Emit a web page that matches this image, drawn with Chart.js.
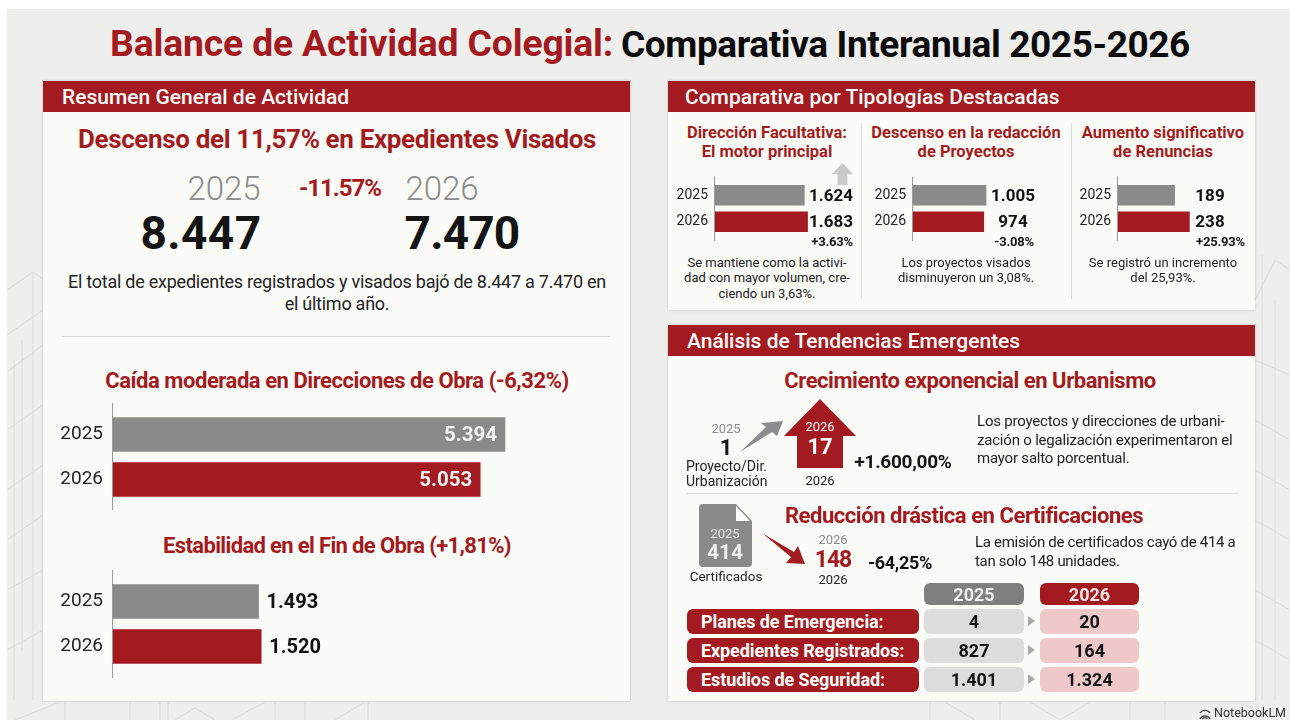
<!DOCTYPE html>
<html lang="es">
<head>
<meta charset="utf-8">
<title>Balance de Actividad Colegial</title>
<script src="https://cdn.jsdelivr.net/npm/chart.js@4"></script>
<style>
	:root { --rojo: #a31b20; --gris: #8a8a8a; --tinta: #141414; }
	html, body { margin: 0; padding: 0; background: #fff; }
	#lienzo { position: relative; width: 1290px; height: 720px; overflow: hidden; background: #fff; font-family: Roboto, sans-serif; color: var(--tinta); }
	#fondo { position: absolute; left: 7px; top: 9px; width: 1283px; height: 711px; background: #eeefed; }
	#trazos { position: absolute; left: 0; top: 0; }
	.panel { position: absolute; background: #fbfbf8; box-shadow: 0 0 3px rgba(0,0,0,.18); }
	.cabecera { position: absolute; background: var(--rojo); height: 31px; }
	.t { position: absolute; line-height: 1; white-space: nowrap; transform: translateY(-50%); }
	.c { transform: translate(-50%, -50%); text-align: center; }
	.b { font-weight: 700; }
	.m { font-weight: 500; }
	.r { color: var(--rojo); }
	.g { color: #8c8c8c; }
	.w { color: #fff; }
	.sub { font-size: 16.5px; font-weight: 700; color: var(--rojo); }
	.h { font-size: 21px; font-weight: 500; color: #fff; }
	.h2 { font-size: 22px; font-weight: 700; color: var(--rojo); letter-spacing: -.45px; }
	.d { font-size: 13px; color: #222; }
	.p { font-size: 15px; color: #222; letter-spacing: -.2px; }
	.linea { position: absolute; background: #d9d9d6; }
	.pildora { position: absolute; border-radius: 6px; display: flex; align-items: center; justify-content: center; font-size: 18px; font-weight: 700; }
	canvas { position: absolute; }
</style>
</head>
<body>
<div id="lienzo">
	<div id="fondo"></div>
	<svg id="trazos" width="1290" height="720" fill="none" stroke="#dcdcda" stroke-width="1">
		<path d="M7 290 L33 272 L43 279 M33 272 V700 M7 335 L43 310 M7 372 L43 345 M7 430 L43 405 M7 490 L43 465 M7 540 L43 515 M7 590 L43 570 M7 650 L43 630 M14 360 V700 M22 340 V650"/>
		<path d="M15 720 L60 702 M65 720 V702 M130 720 V702 M160 720 V702 M168 720 V702 M175 720 L195 708 L215 720 M232 720 L265 702 M275 720 V702 M305 720 V702 M335 720 L365 702 M368 720 V702"/>
		<path d="M930 720 V702 M945 702 L975 720 M1000 720 V702 M1030 702 L1060 720 L1090 702 M1130 720 V702 M1165 720 V702"/>
		<path d="M1255 360 L1290 375 M1255 420 L1290 440 M1255 470 L1290 490 M1255 520 L1290 540 M1255 590 L1290 610 M1255 640 L1290 660 M1262 255 V700 M1275 300 V700 M1255 300 L1275 260 L1290 270"/>
	</svg>

	<div class="t" style="left:110px;top:44px;font-size:37.3px;font-weight:700;color:var(--rojo);letter-spacing:-.15px">Balance de Actividad Colegial:</div>
	<div class="t" style="left:621px;top:44px;font-size:37px;font-weight:700;color:#0c0c0c;letter-spacing:-.4px">Comparativa Interanual 2025-2026</div>

	<!-- Panel izquierdo -->
	<div class="panel" style="left:43px;top:81px;width:587px;height:620px"></div>
	<div class="cabecera" style="left:43px;top:81px;width:587px"></div>
	<div class="t h" style="left:62px;top:97px">Resumen General de Actividad</div>
	<div class="t c sub" style="left:337px;top:139px;font-size:26px;letter-spacing:-.35px">Descenso del 11,57% en Expedientes Visados</div>
	<div class="t c g" style="left:224px;top:188px;font-size:33px;font-weight:300">2025</div>
	<div class="t c b r" style="left:340px;top:188px;font-size:24px;letter-spacing:-1px">-11.57%</div>
	<div class="t c g" style="left:442px;top:188px;font-size:33px;font-weight:300">2026</div>
	<div class="t c b" id="total2025" style="left:201px;top:233px;font-size:46px;letter-spacing:.4px"></div>
	<div class="t c b" id="total2026" style="left:462px;top:233px;font-size:46px;letter-spacing:-.8px"></div>
	<div class="t c" style="left:337px;top:282px;font-size:18px;color:#222;letter-spacing:-.25px">El total de expedientes registrados y visados bajó de 8.447 a 7.470 en</div>
	<div class="t c" style="left:337px;top:304px;font-size:18px;color:#222;letter-spacing:-.25px">el último año.</div>
	<div class="linea" style="left:62px;top:336px;width:548px;height:1px"></div>
	<div class="t c h2" style="left:337px;top:381px">Caída moderada en Direcciones de Obra (-6,32%)</div>
	<div class="t c h2" style="left:337px;top:546px;letter-spacing:-.65px">Estabilidad en el Fin de Obra (+1,81%)</div>
	<canvas id="graficoDirecciones" width="520" height="107" style="left:50px;top:403px"></canvas>
	<canvas id="graficoFinObra" width="400" height="108" style="left:50px;top:570px"></canvas>

	<!-- Panel de tipologías -->
	<div class="panel" style="left:668px;top:81px;width:587px;height:229px"></div>
	<div class="cabecera" style="left:668px;top:81px;width:587px"></div>
	<div class="t h" style="left:685px;top:97px">Comparativa por Tipologías Destacadas</div>
	<div class="linea" style="left:861px;top:123px;width:1px;height:176px"></div>
	<div class="linea" style="left:1071px;top:123px;width:1px;height:176px"></div>
	<div class="t c sub" style="left:767px;top:133px">Dirección Facultativa:</div>
	<div class="t c sub" style="left:767px;top:152px">El motor principal</div>
	<div class="t c sub" style="left:966px;top:133px">Descenso en la redacción</div>
	<div class="t c sub" style="left:966px;top:152px">de Proyectos</div>
	<div class="t c sub" style="left:1163px;top:133px">Aumento significativo</div>
	<div class="t c sub" style="left:1163px;top:152px">de Renuncias</div>
	<svg style="position:absolute;left:828px;top:160px" width="30" height="28"><path d="M14.5 3 L25 14 H19.5 V25 H9.5 V14 H4 Z" fill="#c9c9c6"/></svg>
	<canvas id="graficoDireccion" width="190" height="64" style="left:670px;top:177px"></canvas>
	<canvas id="graficoProyectos" width="190" height="64" style="left:868px;top:177px"></canvas>
	<canvas id="graficoRenuncias" width="180" height="64" style="left:1073px;top:177px"></canvas>
	<div class="t b" style="right:437px;top:241px;font-size:13px;letter-spacing:-.2px">+3.63%</div>
	<div class="t b" style="right:256px;top:241px;font-size:13px;letter-spacing:-.2px">-3.08%</div>
	<div class="t b" style="right:45px;top:241px;font-size:13px;letter-spacing:-.2px">+25.93%</div>
	<div class="t c d" style="left:767px;top:262px">Se mantiene como la activi-</div>
	<div class="t c d" style="left:767px;top:277px">dad con mayor volumen, cre-</div>
	<div class="t c d" style="left:767px;top:293px">ciendo un 3,63%.</div>
	<div class="t c d" style="left:966px;top:262px">Los proyectos visados</div>
	<div class="t c d" style="left:966px;top:277px">disminuyeron un 3,08%.</div>
	<div class="t c d" style="left:1163px;top:262px">Se registró un incremento</div>
	<div class="t c d" style="left:1163px;top:277px">del 25,93%.</div>

	<!-- Panel de tendencias -->
	<div class="panel" style="left:668px;top:325px;width:587px;height:376px"></div>
	<div class="cabecera" style="left:668px;top:325px;width:587px"></div>
	<div class="t h" style="left:687px;top:341px">Análisis de Tendencias Emergentes</div>
	<div class="t c h2" style="left:970px;top:381px">Crecimiento exponencial en Urbanismo</div>
	<svg style="position:absolute;left:0;top:0" width="1290" height="720">
		<path d="M820 399 L856 436 H843 V468 H797 V436 H784 Z" fill="#a31b20"/>
		<path d="M740 452 L766 427 L761 423 L783 421 L777 436 L772 432 Z" fill="#8c8c8c"/>
		<path d="M703 504 H736 L752 521 V563 Q752 567 748 567 H703 Q699 567 699 563 V508 Q699 504 703 504 Z" fill="#8a8a8a"/>
		<path d="M736 506 L750 521 H736 Z" fill="#fff"/>
		<path d="M762 533 L794 552 L798 546 L805 564 L786 563 L791 557 Z" fill="#a31b20"/>
		<path d="M1028 616 L1035 621 L1028 626 Z M1028 645 L1035 650 L1028 655 Z M1028 674 L1035 679 L1028 684 Z" fill="#a9a9a7"/>
	</svg>
	<div class="t c g" style="left:726px;top:428px;font-size:13px">2025</div>
	<div class="t c b" id="urbanismo2025" style="left:726px;top:448px;font-size:22px"></div>
	<div class="t" style="left:686px;top:466px;font-size:14px;color:#222">Proyecto/Dir.</div>
	<div class="t" style="left:686px;top:481px;font-size:14px;color:#222">Urbanización</div>
	<div class="t c w" style="left:820px;top:426px;font-size:13px">2026</div>
	<div class="t c b w" id="urbanismo2026" style="left:820px;top:447px;font-size:22px"></div>
	<div class="t c" style="left:820px;top:480px;font-size:13px;color:#222">2026</div>
	<div class="t c b" style="left:903px;top:461px;font-size:19px;letter-spacing:-.3px">+1.600,00%</div>
	<div class="t p" style="left:977px;top:421px">Los proyectos y direcciones de urbani-</div>
	<div class="t p" style="left:977px;top:440px">zación o legalización experimentaron el</div>
	<div class="t p" style="left:977px;top:458px">mayor salto porcentual.</div>
	<div class="linea" style="left:687px;top:493px;width:551px;height:1px"></div>
	<div class="t c h2" style="left:964px;top:516px">Reducción drástica en Certificaciones</div>
	<div class="t c" style="left:725px;top:533px;font-size:13px;color:#e4e4e4">2025</div>
	<div class="t c b" id="certificados2025" style="left:725px;top:552px;font-size:21px;color:#eee"></div>
	<div class="t c" style="left:726px;top:577px;font-size:13.5px;color:#222">Certificados</div>
	<div class="t c g" style="left:833px;top:539px;font-size:13px">2026</div>
	<div class="t c b r" id="certificados2026" style="left:833px;top:559px;font-size:23px;letter-spacing:-1px"></div>
	<div class="t c" style="left:833px;top:579px;font-size:13px;color:#222">2026</div>
	<div class="t c b" style="left:900px;top:563px;font-size:18px;letter-spacing:-.3px">-64,25%</div>
	<div class="t p" style="left:975px;top:542px;letter-spacing:-.3px">La emisión de certificados cayó de 414 a</div>
	<div class="t p" style="left:975px;top:561px;letter-spacing:-.3px">tan solo 148 unidades.</div>
	<div id="tabla"></div>

	<svg style="position:absolute;left:1198px;top:707px" width="14" height="13" fill="none" stroke="#333" stroke-width="1.3"><path d="M2 12 A5.5 5.5 0 0 1 12 12 M4.5 12 A3 3 0 0 1 9.5 12 M2 6 A6 6 0 0 1 12 6"/></svg>
	<div class="t" style="left:1214px;top:713px;font-size:12.5px;color:#333">NotebookLM</div>
</div>

<script>
// **DATOS**
const anios = ['2025', '2026'];
const totalExpedientes = [8447, 7470];
const direccionesObra = [5394, 5053];
const finObra = [1493, 1520];
const direccionFacultativa = [1624, 1683];
const proyectos = [1005, 974];
const renuncias = [189, 238];
const urbanismo = [1, 17];
const certificados = [414, 148];
const filasTabla = ['Planes de Emergencia:', 'Expedientes Registrados:', 'Estudios de Seguridad:'];
const tabla2025 = [4, 827, 1401];
const tabla2026 = [20, 164, 1324];

const COLORES_BARRA = ['#8a8a8a', '#a31b20'];

/**
 * Formatea un número con punto de millar.
 * @param {number} valor - Valor a formatear.
 * @returns {string} - Texto con separador.
 */
function formatear(valor) {
	return String(valor).replace(/\B(?=(\d{3})+$)/g, '.');
}

// **PLUGIN**
// Dibuja el eje vertical algo más largo que la zona de barras y las etiquetas de valor
const pluginBarras = {
	id: 'pluginBarras',
	afterDatasetsDraw(chart, args, opts) {
		const { ctx, chartArea } = chart;
		ctx.save();
		ctx.strokeStyle = '#9a9a98';
		ctx.lineWidth = 1;
		ctx.beginPath();
		ctx.moveTo(chartArea.left - 0.5, 0);
		ctx.lineTo(chartArea.left - 0.5, chart.height);
		ctx.stroke();

		ctx.font = opts.fuente;
		ctx.textBaseline = 'middle';
		ctx.textAlign = opts.alineado;
		chart.getDatasetMeta(0).data.forEach((barra, i) => {
			let x = chartArea.left + opts.columna;
			if (opts.modo === 'dentro') x = barra.x - 8;
			if (opts.modo === 'fuera') x = barra.x + 8;
			ctx.fillStyle = opts.color;
			ctx.fillText(formatear(chart.data.datasets[0].data[i]), x, barra.y + 1);
		});
		ctx.restore();
	},
};

// **GRÁFICOS**
/**
 * Crea un gráfico de barras horizontales 2025/2026.
 * @param {string} id - Id del canvas.
 * @param {number[]} valores - Valores por año.
 * @param {Object} conf - Escala, márgenes y etiquetas del gráfico.
 */
function crearGrafico(id, valores, conf) {
	new Chart(document.getElementById(id), {
		type: 'bar',
		data: {
			labels: anios,
			datasets: [{ data: valores, backgroundColor: COLORES_BARRA, barThickness: conf.grosor }],
		},
		plugins: [pluginBarras],
		options: {
			indexAxis: 'y',
			responsive: false,
			animation: false,
			layout: { padding: conf.margen },
			plugins: {
				legend: { display: false },
				tooltip: { enabled: false },
				pluginBarras: conf.etiquetas,
			},
			scales: {
				x: { display: false, min: 0, max: conf.max },
				y: {
					// ancho fijo y sin el relleno que añaden las marcas, para que las barras queden donde toca
					afterFit: (eje) => {
						eje.width = conf.anchoEje;
						eje.paddingTop = 0;
						eje.paddingBottom = 0;
					},
					grid: { display: false, drawTicks: false },
					border: { display: false },
					ticks: { color: '#222', padding: conf.separacion, font: { family: 'Roboto', size: conf.tamano } },
				},
			},
		},
	});
}

/**
 * Rellena las cifras sueltas del texto a partir de los datos.
 */
function rellenarCifras() {
	const cifras = {
		total2025: totalExpedientes[0], total2026: totalExpedientes[1],
		urbanismo2025: urbanismo[0], urbanismo2026: urbanismo[1],
		certificados2025: certificados[0], certificados2026: certificados[1],
	};
	Object.keys(cifras).forEach(id => {
		document.getElementById(id).textContent = formatear(cifras[id]);
	});
}

/**
 * Construye la tabla inferior con píldoras.
 */
function crearTabla() {
	const tabla = document.getElementById('tabla');
	const pildora = (x, y, ancho, alto, fondo, color, texto) => {
		const el = document.createElement('div');
		el.className = 'pildora';
		el.style.cssText = `left:${x}px;top:${y}px;width:${ancho}px;height:${alto}px;background:${fondo};color:${color}`;
		el.textContent = texto;
		tabla.appendChild(el);
		return el;
	};
	pildora(924, 583, 100, 22, '#7f7f7f', '#eee', anios[0]);
	pildora(1040, 583, 99, 22, '#a31b20', '#f4e4e4', anios[1]);
	filasTabla.forEach((fila, i) => {
		const y = 609 + i * 29;
		const etiqueta = pildora(687, y, 232, 25, '#a31b20', '#fff', fila);
		etiqueta.style.justifyContent = 'flex-start';
		etiqueta.style.paddingLeft = '14px';
		etiqueta.style.width = '218px';
		etiqueta.style.letterSpacing = '-.1px';
		pildora(924, y, 100, 25, '#dcdcda', '#141414', formatear(tabla2025[i]));
		pildora(1040, y, 99, 25, '#efc9c9', '#141414', formatear(tabla2026[i]));
	});
}

// **INICIALIZACIÓN**
function init() {
	rellenarCifras();
	crearTabla();

	crearGrafico('graficoDirecciones', direccionesObra, {
		max: 6000, grosor: 34, anchoEje: 63, separacion: 10, tamano: 19,
		margen: { top: 9, bottom: 8, right: 21 },
		etiquetas: { modo: 'dentro', alineado: 'right', color: '#f2f2f2', fuente: '700 20.5px Roboto' },
	});
	crearGrafico('graficoFinObra', finObra, {
		max: 2000, grosor: 34, anchoEje: 63, separacion: 10, tamano: 19,
		margen: { top: 9, bottom: 9, right: 142 },
		etiquetas: { modo: 'fuera', alineado: 'left', color: '#111', fuente: '700 20px Roboto' },
	});
	crearGrafico('graficoDireccion', direccionFacultativa, {
		max: 2000, grosor: 20, anchoEje: 45, separacion: 7, tamano: 14,
		margen: { top: 5, bottom: 6, right: 35 },
		etiquetas: { modo: 'columna', columna: 138, alineado: 'right', color: '#111', fuente: '700 17px Roboto' },
	});
	crearGrafico('graficoProyectos', proyectos, {
		max: 1500, grosor: 20, anchoEje: 45, separacion: 7, tamano: 14,
		margen: { top: 5, bottom: 6, right: 36 },
		etiquetas: { modo: 'columna', columna: 100, alineado: 'center', color: '#111', fuente: '700 17px Roboto' },
	});
	crearGrafico('graficoRenuncias', renuncias, {
		max: 400, grosor: 20, anchoEje: 45, separacion: 7, tamano: 14,
		margen: { top: 5, bottom: 6, right: 15 },
		etiquetas: { modo: 'columna', columna: 92, alineado: 'center', color: '#111', fuente: '700 17px Roboto' },
	});
}

document.addEventListener('DOMContentLoaded', init);
</script>
</body>
</html>
